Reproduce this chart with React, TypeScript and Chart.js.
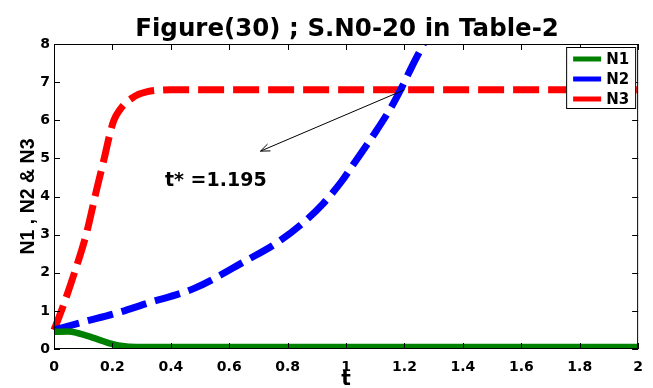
import { useEffect, useRef } from 'react';
import { Chart, registerables } from 'chart.js';

Chart.register(...registerables);

const TITLE = 'Figure(30) ; S.N0-20 in Table-2';
const X_LABEL = 't';
const Y_LABEL = 'N1 , N2 & N3';
const SERIES_NAMES = ['N1', 'N2', 'N3'];
const SERIES_COLORS = ['#008000', '#0000ff', '#ff0000'];

const X_TICKS = [0, 0.2, 0.4, 0.6, 0.8, 1, 1.2, 1.4, 1.6, 1.8, 2];
const Y_TICKS = [0, 1, 2, 3, 4, 5, 6, 7, 8];

const tN1 = [0, 0.05, 0.08, 0.12, 0.155, 0.19, 0.22, 0.26, 0.3, 0.4, 1.0, 2.0];
const n1 = [0.45, 0.46, 0.42, 0.33, 0.24, 0.15, 0.09, 0.06, 0.05, 0.05, 0.05, 0.05];

const tN2 = [0, 0.1, 0.21, 0.32, 0.48, 0.66, 0.76, 0.85, 0.92, 0.985, 1.03, 1.1, 1.155, 1.19, 1.225, 1.265, 1.3];
const n2 = [0.5, 0.71, 0.93, 1.2, 1.59, 2.33, 2.77, 3.29, 3.8, 4.4, 4.9, 5.68, 6.35, 6.85, 7.4, 8.0, 8.55];

const tN3 = [0, 0.03, 0.07, 0.11, 0.145, 0.175, 0.19, 0.205, 0.225, 0.245, 0.265, 0.29, 0.32, 0.345, 0.4, 1.0, 2.0];
const n3 = [0.5, 1.1, 2.0, 3.0, 4.15, 5.1, 5.6, 6.0, 6.27, 6.45, 6.57, 6.68, 6.75, 6.78, 6.8, 6.8, 6.8];

const ANNOT_TEXT = 't* =1.195';
const ANNOT_FROM = { x: 1.2, y: 6.8 };
const ANNOT_TIP = { x: 0.707, y: 5.19 };
const ANNOT_TEXT_AT = { x: 0.38, y: 4.28 };

const HFONT = '"DejaVu Sans", sans-serif';
const VFONT = '"Liberation Sans", Arial, sans-serif';

function pts(t: number[], v: number[]) {
  return t.map((x, i) => ({ x, y: v[i] }));
}

const decorPlugin = {
  id: 'decor',
  afterDatasetsDraw(chart: any) {
    const ctx = chart.ctx as CanvasRenderingContext2D;
    const { left, right, top, bottom } = chart.chartArea;
    const xs = chart.scales.x;
    const ys = chart.scales.y;
    ctx.save();
    ctx.strokeStyle = '#000';
    ctx.lineWidth = 1;
    // box
    ctx.beginPath();
    ctx.rect(left + 0.5, top + 0.5, right - left - 1, bottom - top - 1);
    ctx.stroke();
    // inner ticks
    ctx.beginPath();
    X_TICKS.forEach((v) => {
      const px = Math.round(xs.getPixelForValue(v)) + 0.5;
      ctx.moveTo(px, bottom);
      ctx.lineTo(px, bottom - 6);
      ctx.moveTo(px, top);
      ctx.lineTo(px, top + 6);
    });
    Y_TICKS.forEach((v) => {
      const py = Math.round(ys.getPixelForValue(v)) + 0.5;
      ctx.moveTo(left, py);
      ctx.lineTo(left + 6, py);
      ctx.moveTo(right, py);
      ctx.lineTo(right - 6, py);
    });
    ctx.stroke();

    // annotation arrow
    const fx = xs.getPixelForValue(ANNOT_FROM.x);
    const fy = ys.getPixelForValue(ANNOT_FROM.y);
    const tx = xs.getPixelForValue(ANNOT_TIP.x);
    const ty = ys.getPixelForValue(ANNOT_TIP.y);
    ctx.beginPath();
    ctx.moveTo(fx, fy);
    ctx.lineTo(tx, ty);
    const ang = Math.atan2(fy - ty, fx - tx);
    const hl = 10;
    const ha = 0.38;
    ctx.moveTo(tx + hl * Math.cos(ang + ha), ty + hl * Math.sin(ang + ha));
    ctx.lineTo(tx, ty);
    ctx.lineTo(tx + hl * Math.cos(ang - ha), ty + hl * Math.sin(ang - ha));
    ctx.stroke();

    ctx.fillStyle = '#000';
    ctx.font = `bold 19px ${HFONT}`;
    ctx.textAlign = 'left';
    ctx.textBaseline = 'alphabetic';
    ctx.fillText(ANNOT_TEXT, xs.getPixelForValue(ANNOT_TEXT_AT.x), ys.getPixelForValue(ANNOT_TEXT_AT.y));

    // legend
    const lw = 70;
    const lh = 62;
    const lx = right - lw - 2;
    const ly = top + 3;
    ctx.fillStyle = '#fff';
    ctx.fillRect(lx, ly, lw, lh);
    ctx.strokeStyle = '#000';
    ctx.lineWidth = 1;
    ctx.strokeRect(lx + 0.5, ly + 0.5, lw - 1, lh - 1);
    ctx.font = `bold 15px ${HFONT}`;
    ctx.textBaseline = 'middle';
    SERIES_NAMES.forEach((name, i) => {
      const yy = ly + 12 + i * 20;
      ctx.strokeStyle = SERIES_COLORS[i];
      ctx.lineWidth = 5;
      ctx.beginPath();
      ctx.moveTo(lx + 7, yy);
      ctx.lineTo(lx + 35, yy);
      ctx.stroke();
      ctx.fillStyle = '#000';
      ctx.fillText(name, lx + 40, yy + 1);
    });

    // title
    ctx.fillStyle = '#000';
    ctx.font = `bold 24.5px ${HFONT}`;
    ctx.textAlign = 'center';
    ctx.textBaseline = 'alphabetic';
    ctx.fillText(TITLE, (left + right) / 2 + 1, 36);

    // x label
    ctx.font = `bold 20px ${HFONT}`;
    ctx.fillText(X_LABEL, (left + right) / 2, 385);

    // y label
    ctx.save();
    ctx.translate(29, (top + bottom) / 2);
    ctx.rotate(-Math.PI / 2);
    ctx.font = `bold 19.5px ${VFONT}`;
    ctx.textAlign = 'center';
    ctx.textBaseline = 'middle';
    ctx.fillText(Y_LABEL, 0, 0);
    ctx.restore();

    ctx.restore();
  },
};

export default function App() {
  const ref = useRef<HTMLCanvasElement | null>(null);
  useEffect(() => {
    if (!ref.current) return;
    const tickFont = { family: HFONT, weight: 'bold' as const, size: 14 };
    const clip = { left: 4, right: 0, top: 0, bottom: 0 } as any;
    const chart = new Chart(ref.current, {
      type: 'line',
      data: {
        datasets: [
          {
            label: SERIES_NAMES[0],
            data: pts(tN1, n1),
            borderColor: SERIES_COLORS[0],
            borderWidth: 6.5,
            pointRadius: 0,
            cubicInterpolationMode: 'monotone',
            clip,
          },
          {
            label: SERIES_NAMES[1],
            data: pts(tN2, n2),
            borderColor: SERIES_COLORS[1],
            borderWidth: 7,
            borderDash: [26, 9],
            pointRadius: 0,
            cubicInterpolationMode: 'monotone',
            clip,
          },
          {
            label: SERIES_NAMES[2],
            data: pts(tN3, n3),
            borderColor: SERIES_COLORS[2],
            borderWidth: 7,
            borderDash: [26, 9],
            pointRadius: 0,
            cubicInterpolationMode: 'monotone',
            clip,
          },
        ],
      },
      options: {
        animation: false,
        responsive: false,
        layout: { padding: { top: 44, right: 4, left: 0, bottom: 0 } },
        plugins: {
          legend: { display: false },
          title: { display: false },
          tooltip: { enabled: false },
        },
        scales: {
          x: {
            type: 'linear',
            min: 0,
            max: 2,
            afterBuildTicks: (s: any) => {
              s.ticks = X_TICKS.map((value) => ({ value }));
            },
            afterFit: (s: any) => {
              s.height = 39;
            },
            ticks: {
              font: tickFont,
              color: '#000',
              padding: 10,
              maxRotation: 0,
              autoSkip: false,
              callback: (v: any) => String(v),
            },
            grid: { display: false, drawTicks: false },
            border: { display: false },
          },
          y: {
            type: 'linear',
            min: 0,
            max: 8,
            afterBuildTicks: (s: any) => {
              s.ticks = Y_TICKS.map((value) => ({ value }));
            },
            afterFit: (s: any) => {
              s.width = 54;
            },
            ticks: {
              font: tickFont,
              color: '#000',
              padding: 4,
              autoSkip: false,
              callback: (v: any) => String(v),
            },
            grid: { display: false, drawTicks: false },
            border: { display: false },
          },
        },
      },
      plugins: [decorPlugin],
    });
    return () => chart.destroy();
  }, []);
  return (
    <div style={{ position: 'fixed', left: 0, top: 0, width: 653, height: 388, background: '#fff' }}>
      <canvas ref={ref} width={653} height={388} />
    </div>
  );
}
